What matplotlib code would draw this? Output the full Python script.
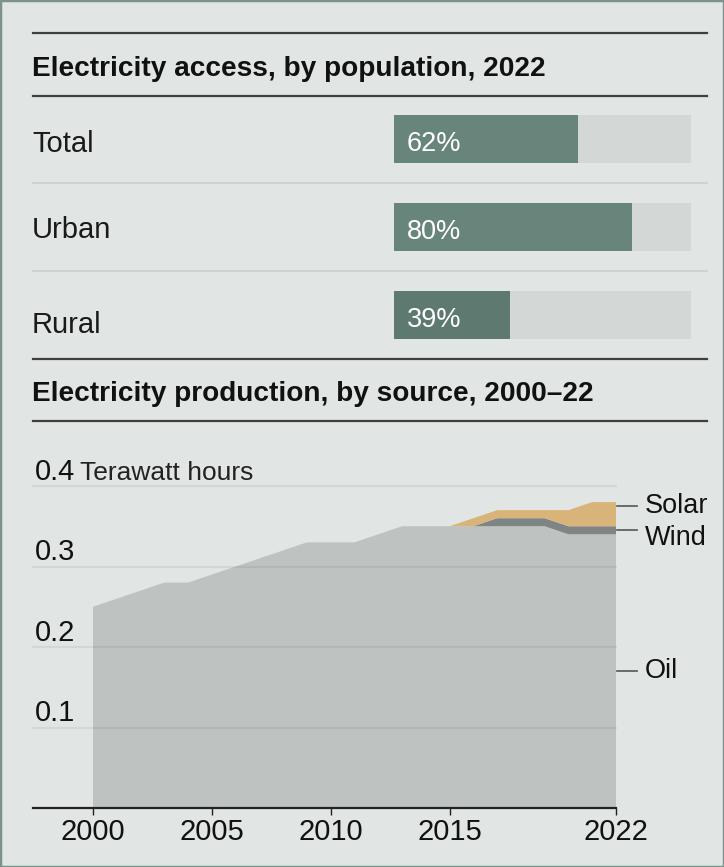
import matplotlib
matplotlib.use('Agg')
import matplotlib.pyplot as plt
from matplotlib.lines import Line2D
from matplotlib.patches import Rectangle
from matplotlib.transforms import blended_transform_factory

plt.rcParams['font.family'] = ['Liberation Sans', 'DejaVu Sans']

# Access by population, 2022 (%)
access_labels = ['Total', 'Urban', 'Rural']
access_values = [62, 80, 39]

# Production by source, 2000-22 (TWh)
years = list(range(2000, 2023))
oil = [0.25, 0.26, 0.27, 0.28, 0.28, 0.29, 0.30, 0.31, 0.32, 0.33, 0.33, 0.33,
       0.34, 0.35, 0.35, 0.35, 0.35, 0.35, 0.35, 0.35, 0.34, 0.34, 0.34]
wind = [0] * 16 + [0.0, 0.01, 0.01, 0.01, 0.01, 0.01, 0.01]
solar = [0] * 15 + [0.0, 0.01, 0.01, 0.01, 0.01, 0.02, 0.03, 0.03]
xticks = [2000, 2005, 2010, 2015, 2022]
yticks = [0.1, 0.2, 0.3, 0.4]

W, H = 724, 867
BG = '#e1e5e4'
DARK = '#3f3f3f'


def fx(px):
    return px / W


def fy(py):
    return 1 - py / H


fig = plt.figure(figsize=(W / 100, H / 100), dpi=100, facecolor=BG)
fig.add_artist(Rectangle((0, 0), 1, 1, transform=fig.transFigure, fill=False,
                         ec='#7a948b', lw=2.5))

# section rules and titles
for y in [33, 96, 359, 421]:
    fig.add_artist(Line2D([fx(33), fx(707)], [fy(y)] * 2, color=DARK, lw=1.6))
fig.text(fx(32), fy(76), 'Electricity access, by population, 2022',
         fontsize=20.2, fontweight='bold', va='baseline', color='#111111')
fig.text(fx(32), fy(401), 'Electricity production, by source, 2000\u201322',
         fontsize=20.2, fontweight='bold', va='baseline', color='#111111')

# --- bars ---
axb = fig.add_axes([fx(394), fy(359), (691 - 394) / W, (359 - 95) / H])
axb.set_facecolor('none')
rows = list(range(len(access_labels)))
bar_colors = ['#68857c', '#68857c', '#5e7a70']
axb.barh(rows, [100] * len(rows), height=0.545, color='#d3d7d6')
axb.barh(rows, access_values, height=0.545, color=bar_colors)
axb.set_xlim(0, 100)
axb.set_ylim(2.5, -0.5)
axb.axis('off')

row_tr = blended_transform_factory(fig.transFigure, axb.transData)
for y in [0.5, 1.5]:
    axb.plot([fx(33), fx(707)], [y, y], transform=row_tr, color='#cfd3d2',
             lw=1.5, clip_on=False)

label_dy = [12.5, 11.5, 18]
for i, (lab, v) in enumerate(zip(access_labels, access_values)):
    axb.annotate(lab, xy=(fx(32), i), xycoords=row_tr,
                 xytext=(0, -label_dy[i] * 0.72), textcoords='offset points',
                 fontsize=21, va='baseline', color='#1a1a1a')
    axb.annotate(f'{v}%', xy=(0, i), xycoords='data',
                 xytext=(9.4, -8.6), textcoords='offset points',
                 fontsize=19.5, va='baseline', color='white')

# --- area chart ---
ax = fig.add_axes([fx(33), fy(808), (616 - 33) / W, (808 - 486) / H])
ax.set_facecolor('none')
ax.stackplot(years, oil, wind, solar,
             colors=['#bec2c1', '#7f8485', '#d8b47a'], lw=0)
ax.set_xlim(2000 - 60 / 23.77, 2022)
ax.set_ylim(0, 0.4)
for s in ['top', 'left', 'right']:
    ax.spines[s].set_visible(False)
ax.spines['bottom'].set_color('#222222')
ax.spines['bottom'].set_linewidth(1.6)
ax.spines['bottom'].set_zorder(5)
ax.set_yticks([])
ax.set_xticks(xticks)
ax.set_xticklabels([str(t) for t in xticks])
ax.tick_params(axis='x', length=5, width=1, color='#222222', pad=2,
               labelsize=21, labelcolor='#111111')

for v in yticks:
    ax.axhline(v, color='black', alpha=0.06, lw=1.5, zorder=3, clip_on=False)

ytr = blended_transform_factory(ax.transAxes, ax.transData)
for v in yticks:
    ax.annotate(f'{v:.1f}', xy=(0, v), xycoords=ytr, xytext=(1.5, 4.5),
                textcoords='offset points', fontsize=21, va='baseline',
                color='#111111')
ax.annotate('Terawatt hours', xy=(0, yticks[-1]), xycoords=ytr,
            xytext=(33.5, 4.5), textcoords='offset points', fontsize=19,
            va='baseline', color='#222222')

# series labels at right
top_oil = oil[-1]
top_wind = oil[-1] + wind[-1]
series_labels = ['Solar', 'Wind', 'Oil']
series_y = [top_wind + solar[-1] * 0.85, top_oil + wind[-1] / 2, top_oil / 2]
series_dy = [0, -8, 0]
for lab, y, dy in zip(series_labels, series_y, series_dy):
    ax.plot([1.002, 1.036], [y, y], transform=ytr, color='#555555', lw=1.2,
            clip_on=False)
    ax.annotate(lab, xy=(1.0497, y), xycoords=ytr, xytext=(0, dy * 0.72),
                textcoords='offset points', fontsize=19.5, va='center',
                color='#111111')

fig.savefig('out.png', dpi=100, facecolor=BG)
